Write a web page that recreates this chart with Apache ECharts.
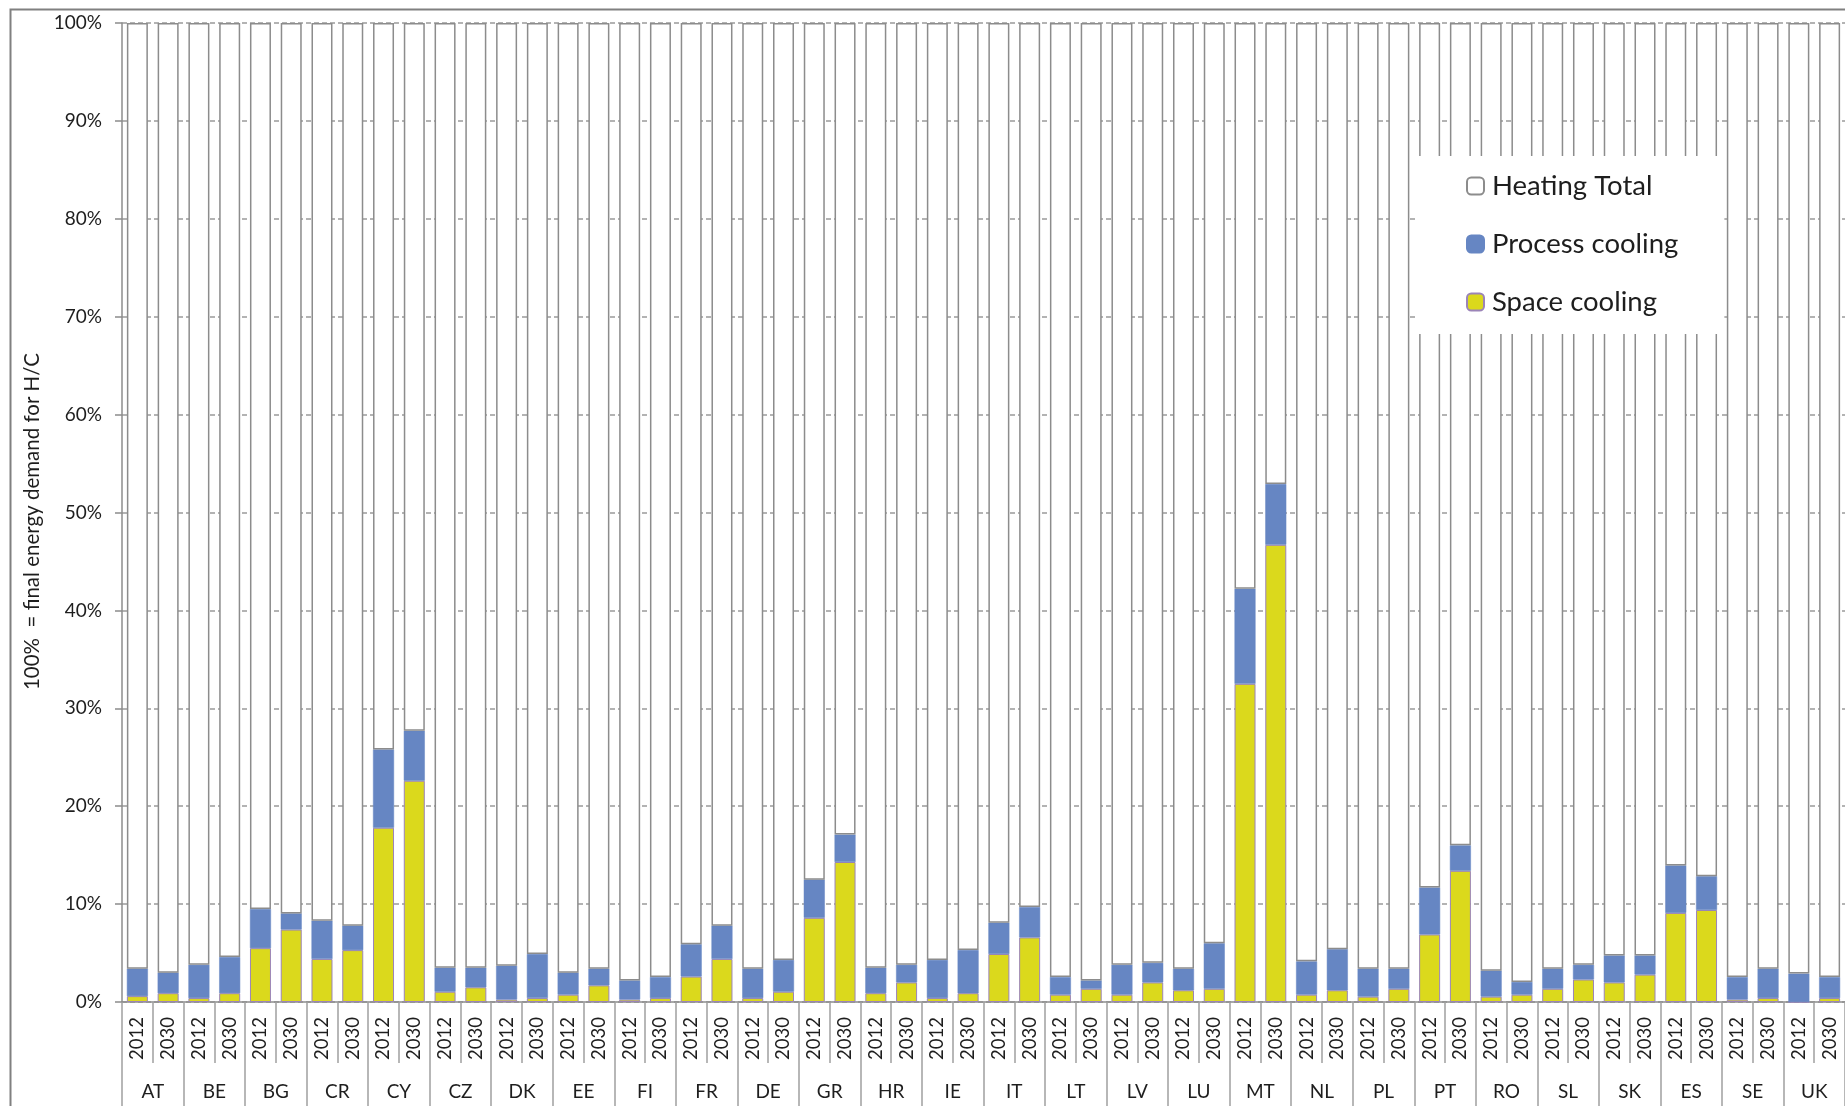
<!DOCTYPE html>
<html>
<head>
<meta charset="utf-8">
<script src="https://cdn.jsdelivr.net/npm/echarts@6/dist/echarts.min.js"></script>
<style>
  html, body { margin: 0; padding: 0; background: #ffffff; }
  #chart { width: 1845px; height: 1106px; }
</style>
</head>
<body>
<div id="chart"></div>
<script>
// Share of final energy demand for heating/cooling, by country, 2012 vs 2030 (%)
const countries = ['AT','BE','BG','CR','CY','CZ','DK','EE','FI','FR','DE','GR','HR','IE','IT','LT','LV','LU','MT','NL','PL','PT','RO','SL','SK','ES','SE','UK'];
const years = ['2012', '2030'];

// one value per country and year: 2012, 2030, 2012, 2030, ...
const spaceCooling = [
  0.6, 0.9,   0.4, 0.9,   5.5, 7.4,   4.4, 5.3,   17.8, 22.6,
  1.05, 1.5,  0.25, 0.4,  0.75, 1.7,  0.25, 0.4,  2.6, 4.4,
  0.4, 1.05,  8.6, 14.3,  0.9, 2.0,   0.4, 0.9,   4.9, 6.6,
  0.75, 1.35, 0.75, 2.0,  1.2, 1.35,  32.5, 46.7, 0.75, 1.2,
  0.55, 1.35, 6.9, 13.4,  0.55, 0.75, 1.35, 2.3,  2.0, 2.8,
  9.1, 9.4,   0.25, 0.4,  0, 0.4
];
const processCooling = [
  2.8, 2.1,   3.4, 3.7,   4.0, 1.65,  3.9, 2.5,   8.0, 5.1,
  2.45, 2.0,  3.45, 4.5,  2.25, 1.7,  1.95, 2.15, 3.3, 3.4,
  3.0, 3.25,  3.9, 2.8,   2.6, 1.8,   3.9, 4.4,   3.2, 3.1,
  1.8, 0.85,  3.05, 2.0,  2.2, 4.65,  9.7, 6.2,   3.4, 4.2,
  2.85, 2.05, 4.8, 2.6,   2.65, 1.3,  2.05, 1.5,  2.75, 1.95,
  4.85, 3.45, 2.3, 3.0,   2.9, 2.15
];
const heatingTotal = [
  96.6, 97.0,   96.2, 95.4,   90.5, 90.95,  91.7, 92.2,   74.2, 72.3,
  96.5, 96.5,   96.3, 95.1,   97.0, 96.6,   97.8, 97.45,  94.1, 92.2,
  96.6, 95.7,   87.5, 82.9,   96.5, 96.2,   95.7, 94.7,   91.9, 90.3,
  97.45, 97.8,  96.2, 96.0,   96.6, 94.0,   57.8, 47.1,   95.85, 94.6,
  96.6, 96.6,   88.3, 84.0,   96.8, 97.95,  96.6, 96.2,   95.25, 95.25,
  86.05, 87.15, 97.45, 96.6,  97.1, 97.45
];
const yTicks = [0, 10, 20, 30, 40, 50, 60, 70, 80, 90, 100];

const yearLabels = countries.flatMap(() => years);

const FONT = 'Lato';
const GRAY = '#8c8c8c';
const TEXT = '#1e1e1e';

const chart = echarts.init(document.getElementById('chart'), null, { renderer: 'canvas' });

chart.setOption({
  animation: false,
  backgroundColor: '#ffffff',
  textStyle: { fontFamily: FONT },
  graphic: [{
    // outer chart frame (runs off the right and bottom of the page)
    type: 'rect',
    left: 8, top: 7,
    shape: { width: 1900, height: 1200 },
    style: { fill: 'none', stroke: '#808080', lineWidth: 2 },
    silent: true,
    z: 0
  }],
  grid: { left: 122, right: -2, top: 23, bottom: 104, containLabel: false },
  legend: {
    orient: 'vertical',
    left: 1415,
    top: 156,
    padding: [16, 46, 18, 51],
    backgroundColor: '#ffffff',
    itemWidth: 17,
    itemHeight: 17,
    itemGap: 30,
    textStyle: { fontFamily: FONT, fontSize: 27.5, color: TEXT, lineHeight: 27, padding: [0, 0, 0, 3] },
    data: ['Heating Total', 'Process cooling', 'Space cooling']
  },
  xAxis: [
    {
      type: 'category',
      data: yearLabels,
      position: 'bottom',
      axisLine: { show: true, lineStyle: { color: GRAY, width: 1.5 } },
      axisTick: { show: true, length: 61, interval: 0, lineStyle: { color: '#a0a0a0', width: 1.5 } },
      axisLabel: { interval: 0, rotate: 90, margin: 15, fontFamily: FONT, fontSize: 18.5, color: TEXT },
      splitLine: { show: false }
    },
    {
      type: 'category',
      data: countries,
      position: 'bottom',
      axisLine: { show: false },
      axisTick: { show: true, length: 104, interval: 0, lineStyle: { color: '#a0a0a0', width: 1.5 } },
      axisLabel: { interval: 0, margin: 80, fontFamily: FONT, fontSize: 19, color: TEXT },
      splitLine: { show: false }
    }
  ],
  yAxis: {
    type: 'value',
    min: yTicks[0],
    max: yTicks[yTicks.length - 1],
    interval: yTicks[1] - yTicks[0],
    name: '100%  = final energy demand for H/C',
    nameLocation: 'middle',
    nameGap: 78,
    nameRotate: 90,
    nameTextStyle: { fontFamily: FONT, fontSize: 20.5, color: TEXT, padding: [0, 18, 0, 0] },
    axisLine: { show: true, lineStyle: { color: GRAY, width: 1.5 } },
    axisTick: { show: true, length: 7, lineStyle: { color: GRAY, width: 1.5 } },
    axisLabel: { formatter: '{value}%', margin: 20, fontFamily: FONT, fontSize: 19, color: TEXT },
    splitLine: { show: true, lineStyle: { color: '#9a9a9a', width: 1.5, type: [5, 3] } }
  },
  series: [
    {
      name: 'Space cooling',
      type: 'bar',
      stack: 'hc',
      barWidth: 21,
      data: spaceCooling,
      itemStyle: { color: '#dbd91c', borderColor: '#9b84b8', borderWidth: 1 }
    },
    {
      name: 'Process cooling',
      type: 'bar',
      stack: 'hc',
      barWidth: 21,
      data: processCooling,
      itemStyle: { color: '#6686c3', borderColor: '#6686c3', borderWidth: 0.5 }
    },
    {
      name: 'Heating Total',
      type: 'bar',
      stack: 'hc',
      barWidth: 21,
      data: heatingTotal,
      itemStyle: { color: '#ffffff', borderColor: GRAY, borderWidth: 1.5 }
    }
  ]
});
</script>
</body>
</html>
